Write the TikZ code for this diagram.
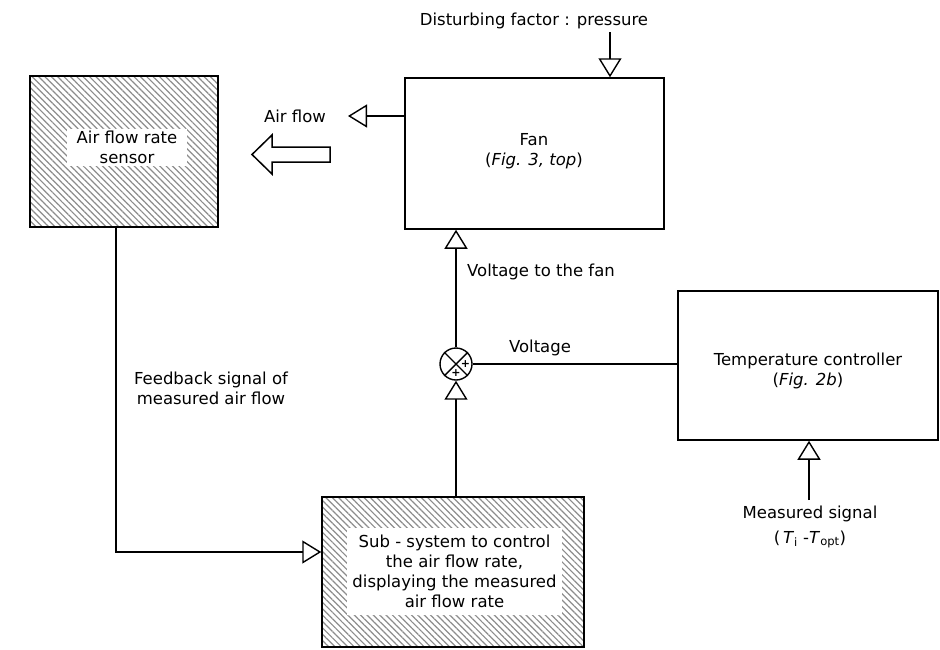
\documentclass[tikz,border=0pt]{standalone}
\usepackage{fontspec}
\setmainfont{DejaVu Sans}
\usetikzlibrary{arrows.meta,patterns.meta}
\begin{document}
\begin{tikzpicture}[x=1pt,y=-1pt,
 lbl/.style={font=\fontsize{16.5}{20}\selectfont, align=center, inner sep=0pt},
 box/.style={draw, line width=1.5pt, inner sep=0pt},
 hatch/.style={box, pattern={Lines[angle=-45,distance=4.5pt,line width=1.2pt]}, pattern color=black!45},
 patch/.style={lbl, fill=white},
 conn/.style={line width=1.4pt},
 arr/.style={conn, -{Triangle[open, length=19pt, width=23pt, line width=1.4pt]}},
 plus/.style={font=\fontsize{11}{11}\selectfont\bfseries, inner sep=0pt}]
\useasboundingbox (0,0) rectangle (940,649);

% boxes
\node[hatch, minimum width=188pt, minimum height=151pt] (sensor) at (124,151.5) {};
\node[patch, minimum width=120pt, minimum height=37pt] (sensortxt) at (127,147) {Air flow rate\\sensor};

\node[box, minimum width=259pt, minimum height=151pt] (fan) at (534.5,153.5) {};
\node[lbl] (fantxt) at (534,151) {Fan\\(\textit{Fig. 3, top})};

\node[box, minimum width=260pt, minimum height=149pt] (temp) at (808,365.5) {};
\node[lbl] (temptxt) at (808,371) {Temperature controller\\(\textit{Fig. 2b})};

\node[hatch, minimum width=262pt, minimum height=150pt] (sub) at (453,572) {};
\node[patch, minimum width=215pt, minimum height=87pt] (subtxt) at (454.5,571.5)
  {Sub - system to control\\the air flow rate,\\displaying the measured\\air flow rate};

% disturbing factor
\node[lbl] (dist) at (534,21) {Disturbing factor : pressure};
\coordinate (distS) at (610,32);
\draw[arr] (distS) -- (fan.north -| distS);

% air flow output
\node[lbl] (airflow) at (295,116) {Air flow};
\coordinate (afend) at (348,116);
\draw[arr] (fan.west |- afend) -- (afend);

% big hollow arrow
\draw[line width=1.5pt, fill=white, line join=miter]
  (330,147) -- (272,147) -- (272,135) -- (252,154.5) -- (272,174) -- (272,162) -- (330,162) -- cycle;

% summing junction
\node[draw, circle, line width=1.4pt, minimum size=32pt, inner sep=0pt] (sum) at (456,364) {};
\draw[conn] (sum.north west) -- (sum.south east);
\draw[conn] (sum.north east) -- (sum.south west);
\node[plus] (p1) at (465.5,364) {+};
\node[plus] (p2) at (456,373.5) {+};

\draw[arr] (sum.north) -- (fan.south -| sum.north);
\node[lbl, anchor=west] (vfan) at (467,272) {Voltage to the fan};

\draw[conn] (sum.east) -- (temp.west |- sum.east);
\node[lbl] (volt) at (540,348) {Voltage};

\draw[arr] (sub.north -| sum.south) -- (sum.south);

% feedback
\coordinate (fbc) at (116,552);
\draw[arr] (sensor.south -| fbc) -- (fbc) -- (sub.west |- fbc);
\node[lbl] (fbtxt) at (211,388) {Feedback signal of\\measured air flow};

% measured signal
\coordinate (ms) at (809,500);
\draw[arr] (ms) -- (temp.south -| ms);
\node[lbl] (mstxt) at (810,527) {Measured signal\\[5pt](\,\textit{T}\textsubscript{i} -\textit{T}\textsubscript{opt})};
\end{tikzpicture}
\end{document}
